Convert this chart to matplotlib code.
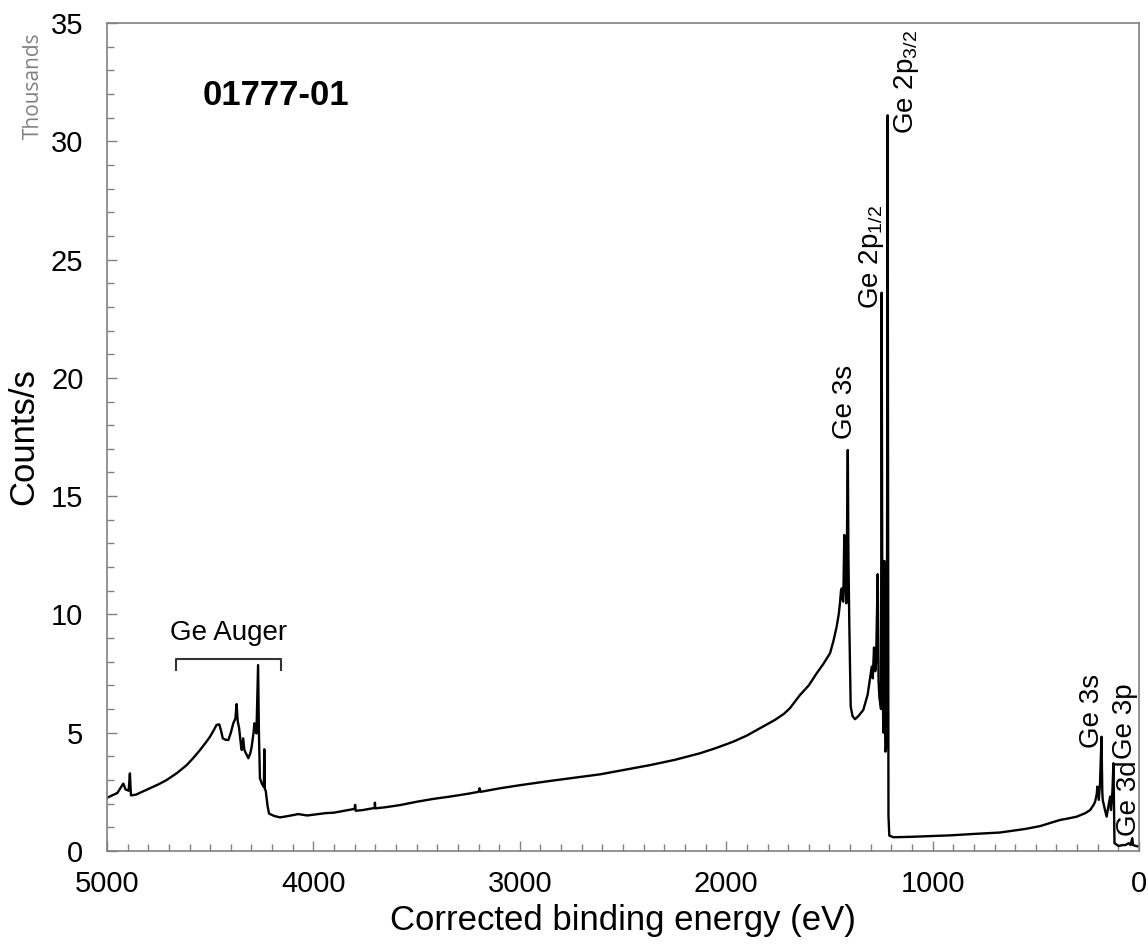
import matplotlib.pyplot as plt

plt.rcParams['font.family'] = ['Liberation Sans', 'DejaVu Sans']
plt.rcParams['mathtext.fontset'] = 'custom'
plt.rcParams['mathtext.rm'] = 'Liberation Sans'

# spectrum: binding energy (eV) and counts/s (thousands)
energy = [5000, 4975, 4950, 4921, 4910, 4895, 4889, 4884, 4860, 4830, 4792, 4750,
          4711, 4660, 4614, 4580, 4549, 4520, 4501, 4480, 4469, 4456, 4448, 4439,
          4425, 4412, 4400, 4388, 4378, 4372, 4367, 4360, 4350, 4347, 4340, 4335,
          4331, 4315, 4305, 4299, 4290, 4286, 4280, 4276, 4268, 4264, 4259, 4250,
          4246, 4240, 4238, 4235, 4231, 4222, 4215, 4190, 4162, 4120, 4073, 4030,
          3984, 3940, 3900, 3850, 3800, 3798, 3795, 3760, 3703, 3702, 3700, 3650,
          3580, 3500, 3420, 3338, 3250, 3200, 3195, 3190, 3096, 3000, 2854, 2750,
          2611, 2500, 2369, 2250, 2127, 2050, 1966, 1900, 1836, 1800, 1764, 1720,
          1691, 1643, 1600, 1562, 1530, 1497, 1480, 1465, 1455, 1449, 1444, 1440,
          1436, 1433, 1428, 1424, 1421, 1418, 1411, 1408, 1404, 1400, 1397, 1388,
          1376, 1360, 1336, 1315, 1295, 1290, 1284, 1278, 1274, 1266, 1262, 1258,
          1250, 1247, 1243, 1238, 1234, 1231, 1229, 1222, 1218, 1214, 1210, 1190,
          1100, 1000, 915, 800, 674, 552, 480, 431, 383, 340, 302, 260,
          237, 220, 213, 205, 202, 195, 189, 182, 178, 176, 165, 157,
          149, 140, 136, 129, 124, 121, 119, 99, 80, 66, 50, 41,
          33, 29, 10, 0]
counts = [2.25, 2.35, 2.45, 2.85, 2.6, 2.55, 3.28, 2.35, 2.38, 2.5, 2.65, 2.82,
          3.0, 3.3, 3.63, 3.95, 4.27, 4.6, 4.83, 5.15, 5.33, 5.35, 5.1, 4.76,
          4.7, 4.69, 5.0, 5.4, 5.6, 6.21, 5.5, 5.2, 4.4, 4.27, 4.76, 4.3,
          4.2, 3.92, 4.15, 4.41, 5.0, 5.4, 5.1, 4.97, 7.86, 5.0, 3.07, 2.85,
          2.79, 2.7, 4.3, 2.6, 2.55, 1.9, 1.58, 1.48, 1.42, 1.48, 1.56, 1.5,
          1.55, 1.6, 1.62, 1.7, 1.78, 1.95, 1.7, 1.73, 1.82, 2.04, 1.8, 1.85,
          1.94, 2.08, 2.2, 2.3, 2.42, 2.5, 2.65, 2.5, 2.65, 2.78, 2.96, 3.08,
          3.24, 3.42, 3.63, 3.85, 4.13, 4.35, 4.62, 4.88, 5.19, 5.36, 5.54, 5.8,
          6.04, 6.59, 7.0, 7.51, 7.9, 8.36, 8.9, 9.48, 10.0, 10.47, 11.0, 11.1,
          10.6, 10.54, 13.36, 11.5, 11.03, 10.47, 16.95, 12.5, 9.76, 7.5, 6.1, 5.7,
          5.57, 5.7, 5.96, 6.6, 7.79, 7.3, 8.6, 7.6, 8.0, 11.7, 7.2, 6.5,
          6.0, 23.6, 7.0, 5.0, 12.26, 6.0, 4.2, 4.5, 31.1, 1.5, 0.65, 0.58,
          0.6, 0.63, 0.66, 0.72, 0.78, 0.93, 1.05, 1.18, 1.31, 1.38, 1.45, 1.6,
          1.73, 1.95, 2.08, 2.4, 2.72, 2.16, 2.86, 4.83, 2.5, 2.16, 1.73, 1.45,
          1.87, 2.3, 1.73, 2.51, 3.71, 1.5, 0.33, 0.21, 0.25, 0.25, 0.33, 0.25,
          0.54, 0.25, 0.2, 0.2]

# peak labels
peak_labels = ['Ge 3s', r'Ge 2p$_{\mathregular{1/2}}$', r'Ge 2p$_{\mathregular{3/2}}$',
               'Ge 3s', 'Ge 3p', 'Ge 3d']
label_x = [1424, 1298, 1129, 228, 70, 48]
label_y = [19.0, 25.1, 32.5, 5.9, 5.5, 2.25]

# Auger bracket ends (eV)
auger_span = [4666, 4157]

fig = plt.figure(figsize=(11.48, 9.47), dpi=100)
ax = fig.add_axes([0.0932, 0.1014, 0.899, 0.8743])

ax.plot(energy, counts, color="black", linewidth=1.7)

ax.set_xlim(5000, 0)
ax.set_ylim(0, 35)
ax.set_xticks(range(0, 5001, 1000))
ax.set_xticks(range(0, 5001, 100), minor=True)
ax.set_yticks(range(0, 36, 5))
ax.set_yticks(range(0, 36, 1), minor=True)
ax.tick_params(which="both", direction="in", colors="#808080", labelcolor="black")
ax.tick_params(which="major", length=7, width=1)
ax.tick_params(which="minor", length=5, width=1)
ax.tick_params(axis="y", pad=17, labelsize=21)
ax.tick_params(axis="x", pad=14, labelsize=21)
for s in ax.spines.values():
    s.set_color("#808080")
    s.set_linewidth(1.2)

ax.set_xlabel("Corrected binding energy (eV)", fontsize=25, labelpad=4)
ax.set_ylabel("Counts/s", fontsize=25, labelpad=8)
fig.text(0.029, 0.91, "Thousands", rotation=90, fontsize=15, color="#808080",
         family="Open Sans", ha="center", va="center")

ax.text(4535, 31.95, "01777-01", fontsize=25, fontweight="bold", ha="left", va="center")

for lab, lx, ly in zip(peak_labels, label_x, label_y):
    ax.text(lx, ly, lab, rotation=90, fontsize=20, ha="center", va="center")

ax.plot([auger_span[0], auger_span[0], auger_span[1], auger_span[1]],
        [7.65, 8.1, 8.1, 7.65], color="#333333", linewidth=1.5)
ax.text(sum(auger_span) / 2, 9.2, "Ge Auger", fontsize=20, ha="center", va="center")

plt.savefig("out.png", dpi=100)
